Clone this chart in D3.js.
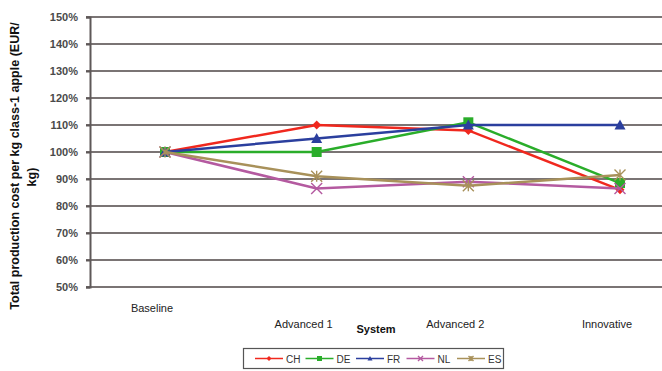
<!DOCTYPE html>
<html>
<head>
<meta charset="utf-8">
<script src="https://cdn.jsdelivr.net/npm/d3@7"></script>
<style>
  html, body { margin: 0; padding: 0; background: #fff; }
  svg { display: block; font-family: "Liberation Sans", Arial, sans-serif; }
</style>
</head>
<body>
<svg id="chart" width="662" height="371"></svg>
<script>
// Production systems along the x axis
const systems = ["Baseline", "Advanced 1", "Advanced 2", "Innovative"];

// Relative production cost per country (Baseline = 100%)
const CH = [100, 110, 108, 86];
const DE = [100, 100, 111, 88.5];
const FR = [100, 105, 110, 110];
const NL = [100, 86.5, 89, 86.5];
const ES = [100, 91, 87.5, 91.5];

const countries = ["CH", "DE", "FR", "NL", "ES"];
const yTicks = [50, 60, 70, 80, 90, 100, 110, 120, 130, 140, 150];

const colors = {
  CH: "#f0281e",
  DE: "#2aad2a",
  FR: "#2b3f9e",
  NL: "#b45aa0",
  ES: "#a8915a"
};
const symbols = {
  CH: "diamond",
  DE: "square",
  FR: "triangle",
  NL: "cross",
  ES: "star"
};

const series = countries.map(name => ({
  name,
  values: { CH, DE, FR, NL, ES }[name]
}));

const svg = d3.select("#chart");

const plot = { left: 90, right: 662, top: 17, bottom: 287 };

const y = d3.scaleLinear().domain([50, 150]).range([plot.bottom, plot.top]);
const x = d3.scalePoint().domain(systems).range([165, 620]);

// Horizontal gridlines
svg.append("g")
  .selectAll("line")
  .data(yTicks)
  .join("line")
  .attr("x1", plot.left - 4)
  .attr("x2", plot.right)
  .attr("y1", d => y(d))
  .attr("y2", d => y(d))
  .attr("stroke", "#7a7474")
  .attr("stroke-width", 2);

// Y axis
const yAxis = d3.axisLeft(y)
  .tickValues(yTicks)
  .tickFormat(d => d + "%")
  .tickSize(4)
  .tickPadding(8);

const gy = svg.append("g")
  .attr("transform", `translate(${plot.left},0)`)
  .call(yAxis);
gy.select(".domain").attr("stroke", "#5e5858").attr("stroke-width", 2);
gy.selectAll(".tick line").attr("stroke", "#5e5858").attr("stroke-width", 2);
gy.selectAll(".tick text")
  .attr("font-size", 11)
  .attr("font-weight", "bold")
  .attr("fill", "#4a4a4a");

// Category labels (staggered)
svg.append("g")
  .selectAll("text")
  .data(systems)
  .join("text")
  .attr("x", d => x(d) - 13)
  .attr("y", (d, i) => i === 0 ? 312 : 328)
  .attr("text-anchor", "middle")
  .attr("font-size", 11)
  .attr("fill", "#222")
  .text(d => d);

// Axis titles
svg.append("text")
  .attr("x", 376)
  .attr("y", 333)
  .attr("text-anchor", "middle")
  .attr("font-size", 11)
  .attr("font-weight", "bold")
  .attr("fill", "#111")
  .text("System");

svg.append("text")
  .attr("transform", "translate(19,166) rotate(-90)")
  .attr("text-anchor", "middle")
  .attr("font-size", 12.5)
  .attr("font-weight", "bold")
  .attr("fill", "#111")
  .text("Total production cost per kg class-1 apple (EUR/");
svg.append("text")
  .attr("transform", "translate(36,177) rotate(-90)")
  .attr("text-anchor", "middle")
  .attr("font-size", 12.5)
  .attr("font-weight", "bold")
  .attr("fill", "#111")
  .text("kg)");

// Marker drawing
function drawMarker(sel, kind, color, size) {
  const s = size / 2;
  if (kind === "diamond") {
    sel.append("path")
      .attr("d", `M0,${-s}L${s},0L0,${s}L${-s},0Z`)
      .attr("fill", color);
  } else if (kind === "square") {
    sel.append("rect")
      .attr("x", -s).attr("y", -s).attr("width", size).attr("height", size)
      .attr("fill", color);
  } else if (kind === "triangle") {
    sel.append("path")
      .attr("d", `M0,${-s}L${s},${s * 0.8}L${-s},${s * 0.8}Z`)
      .attr("fill", color);
  } else if (kind === "cross") {
    sel.append("path")
      .attr("d", `M${-s},${-s}L${s},${s}M${-s},${s}L${s},${-s}`)
      .attr("stroke", color).attr("stroke-width", 1.4).attr("fill", "none");
  } else if (kind === "star") {
    sel.append("path")
      .attr("d", `M${-s},${-s}L${s},${s}M${-s},${s}L${s},${-s}M0,${-s}L0,${s}`)
      .attr("stroke", color).attr("stroke-width", 1.4).attr("fill", "none");
  }
}

const line = d3.line()
  .x((d, i) => x(systems[i]))
  .y(d => y(d));

// Series lines and markers
series.forEach(sr => {
  const g = svg.append("g");
  g.append("path")
    .datum(sr.values)
    .attr("d", line)
    .attr("fill", "none")
    .attr("stroke", colors[sr.name])
    .attr("stroke-width", 2.5);
  const markerSize = sr.name === "CH" ? 9 : (sr.name === "DE" ? 10 : 11);
  sr.values.forEach((v, i) => {
    const m = g.append("g")
      .attr("transform", `translate(${x(systems[i])},${y(v)})`);
    drawMarker(m, symbols[sr.name], colors[sr.name], markerSize);
  });
});

// Legend
const legend = svg.append("g");
legend.append("rect")
  .attr("x", 243.5).attr("y", 348.5)
  .attr("width", 260).attr("height", 20)
  .attr("fill", "#fff")
  .attr("stroke", "#555")
  .attr("stroke-width", 1.2);

const legendX = d3.scalePoint().domain(countries).range([255, 457]);
countries.forEach(name => {
  const lx = legendX(name);
  const g = legend.append("g").attr("transform", `translate(${lx},358.5)`);
  g.append("line")
    .attr("x1", 0).attr("x2", 28)
    .attr("stroke", colors[name]).attr("stroke-width", 1.5);
  const m = g.append("g").attr("transform", "translate(14,0)");
  drawMarker(m, symbols[name], colors[name], 5);
  g.append("text")
    .attr("x", 31).attr("y", 4)
    .attr("font-size", 10)
    .attr("fill", "#333")
    .text(name);
});
</script>
</body>
</html>
